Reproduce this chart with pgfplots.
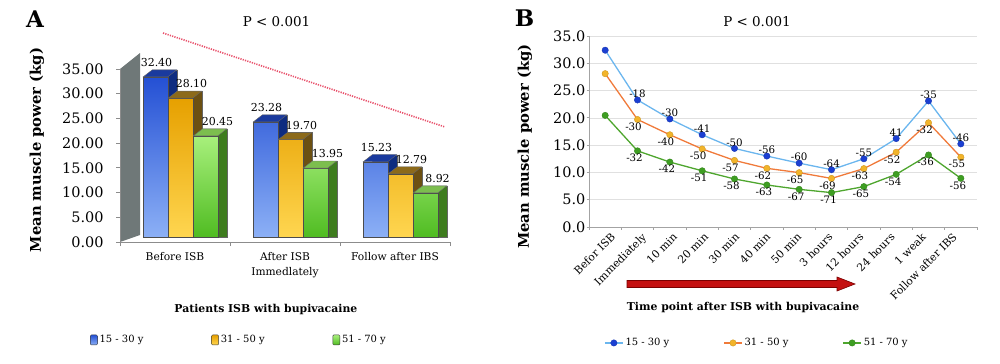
\documentclass[border=0pt]{standalone}
\usepackage{fontspec}
\setmainfont{DejaVu Serif}
\usepackage{pgfplots}
\usepackage{pgfplotstable}
\pgfplotsset{compat=1.18}
\pgfkeys{/pgf/number format/assume math mode=true}

\definecolor{bluetop}{HTML}{2450D4}
\definecolor{bluebot}{HTML}{8CB0F6}
\definecolor{blueside}{HTML}{0E2C80}
\definecolor{blueface}{HTML}{1A3A9E}
\definecolor{orgtop}{HTML}{E6A000}
\definecolor{orgbot}{HTML}{FFD650}
\definecolor{orgside}{HTML}{6C5012}
\definecolor{orgface}{HTML}{8C6A1A}
\definecolor{grntop}{HTML}{A8F07C}
\definecolor{grnbot}{HTML}{50BC22}
\definecolor{grnside}{HTML}{3E7C1E}
\definecolor{grnface}{HTML}{7CBE4E}
\definecolor{wallc}{HTML}{6F7878}
\definecolor{axgray}{HTML}{8C8C8C}
\definecolor{trend}{HTML}{E8506A}
\definecolor{lblue}{HTML}{6BB6EE}
\definecolor{mblue}{HTML}{1B3FD2}
\definecolor{lorange}{HTML}{F07A3A}
\definecolor{morange}{HTML}{F2B42A}
\definecolor{lgreen}{HTML}{4EA62E}
\definecolor{mgreen}{HTML}{3E9E22}
\definecolor{arrowred}{HTML}{C41010}
\definecolor{arrowdark}{HTML}{7A0000}

\newcommand\fYT{\fontsize{14.5}{17}\selectfont}
\newcommand\fXA{\fontsize{10.7}{14.5}\selectfont}
\newcommand\fXB{\fontsize{10.8}{13}\selectfont}
\newcommand\fYL{\bfseries\fontsize{14.8}{16}\selectfont}
\newcommand\fXL{\bfseries\fontsize{10.9}{12}\selectfont}
\newcommand\fLeg{\fontsize{10}{12}\selectfont}
\newcommand\fLA{\fontsize{11}{12}\selectfont}
\newcommand\fLB{\fontsize{10.3}{12}\selectfont}

\pgfdeclareplotmark{topthreed}{%
  \pgfpathmoveto{\pgfqpoint{-12.25bp}{0bp}}%
  \pgfpathlineto{\pgfqpoint{12.25bp}{0bp}}%
  \pgfpathlineto{\pgfqpoint{21.25bp}{7bp}}%
  \pgfpathlineto{\pgfqpoint{-3.25bp}{7bp}}%
  \pgfpathclose
  \pgfusepathqfillstroke}

\pgfplotstableread{
x b o g
0 32.40 28.10 20.45
1 23.28 19.70 13.95
2 15.23 12.79 8.92
}\dataA

\pgfplotstableread{
x b o g lb lo lg
0 32.40 28.10 20.45 {} {} {}
1 23.28 19.70 13.95 -18 -30 -32
2 19.80 16.90 11.90 -30 -40 -42
3 16.90 14.30 10.30 -41 -50 -51
4 14.40 12.20 8.80 -50 -57 -58
5 13.00 10.75 7.70 -56 -62 -63
6 11.70 9.96 6.90 -60 -65 -67
7 10.50 8.90 6.30 -64 -69 -71
8 12.50 10.70 7.40 -55 -63 -65
9 16.20 13.70 9.65 41 -52 -54
10 23.10 19.10 13.20 -35 -32 -36
11 15.23 12.79 8.92 -46 -55 -56
}\dataB

\pgfplotsset{
  sqlegend/.style={legend image code/.code={\draw[##1, draw=black!75, line width=0.4bp, rounded corners=1bp] (0bp,-5bp) rectangle (7bp,5bp);}},
  toplab/.style={nodes near coords={\pgfmathprintnumber[fixed,fixed zerofill,precision=2]{\pgfplotspointmeta}},
    every node near coord/.append style={font=\fLA, black, anchor=south, xshift=#1, yshift=6.5bp}},
}

\begin{document}
\begin{tikzpicture}[x=1bp,y=1bp]
\useasboundingbox (0,0) rectangle (1000,363);

% ---------------- Panel A ----------------
\fill[wallc] (120,121) -- (120,294) -- (140,310) -- (140,128) -- cycle;
\draw[trend, line width=1.6bp, dash pattern=on 1.2bp off 1.2bp] (163,330) -- (445,236);
\node[font=\bfseries\fontsize{23}{25}\selectfont] at (35,343.5) {A};
\node[font=\fontsize{13.5}{15}\selectfont] at (276.5,341) {P < 0.001};

\begin{axis}[
  at={(120bp,121bp)}, anchor=south west, scale only axis,
  width=330bp, height=173bp,
  xmin=-0.5, xmax=2.5, ymin=0, ymax=35,
  axis x line*=bottom, axis y line*=left,
  axis line style={axgray, line width=0.8bp},
  tick style={axgray, line width=0.8bp},
  tick align=outside, major tick length=4bp,
  ytick={0,5,...,35},
  yticklabel style={font=\fYT, xshift=-9bp},
  yticklabel={\pgfmathprintnumber[fixed,fixed zerofill,precision=2]{\tick}},
  xtick={-0.5,0.5,1.5,2.5}, xticklabels={},
  extra x ticks={0,1,2},
  extra x tick labels={Before ISB, {After ISB\\Immedlately}, Follow after IBS},
  extra x tick style={major tick length=0pt, xticklabel style={font=\fXA, align=center, yshift=-7bp}},
  xlabel={Patients ISB with bupivacaine},
  xlabel style={font=\fXL, at={(axis description cs:0.442,-0.393)}, anchor=center},
  ylabel={Mean muscle power (kg)},
  ylabel style={font=\fYL, at={(axis description cs:-0.2515,0.532)}, anchor=center},
]
\end{axis}

\begin{axis}[
  at={(120bp,126bp)}, anchor=south west, scale only axis,
  width=330bp, height=173bp,
  xmin=-0.5, xmax=2.5, ymin=0, ymax=35,
  hide axis, clip=false,
  legend columns=3,
  legend cell align=left,
  legend style={at={(axis description cs:-0.091,-0.595)}, anchor=west, draw=none, fill=none,
    font=\fLeg, inner sep=0pt, /tikz/every even column/.append style={column sep=66bp}},
]
% side faces
\addplot[ybar, bar width=24.5bp, bar shift=-10.5bp, fill=blueside, draw=black!60, line width=0.4bp, forget plot]
  table[x=x, y expr=\thisrow{b}+1.417] {\dataA};
\addplot[ybar, bar width=24.5bp, bar shift=14.5bp, fill=orgside, draw=black!60, line width=0.4bp, forget plot]
  table[x=x, y expr=\thisrow{o}+1.417] {\dataA};
\addplot[ybar, bar width=24.5bp, bar shift=39.5bp, fill=grnside, draw=black!60, line width=0.4bp, forget plot]
  table[x=x, y expr=\thisrow{g}+1.417] {\dataA};
% front faces
\addplot[ybar, bar width=24.5bp, bar shift=-19.5bp, draw=black!70, line width=0.4bp,
  top color=bluetop, bottom color=bluebot, sqlegend]
  table[x=x, y=b] {\dataA};
\addlegendentry{15 - 30 y}
\addplot[ybar, bar width=24.5bp, bar shift=5.5bp, draw=black!70, line width=0.4bp,
  top color=orgtop, bottom color=orgbot, sqlegend]
  table[x=x, y=o] {\dataA};
\addlegendentry{31 - 50 y}
\addplot[ybar, bar width=24.5bp, bar shift=30.5bp, draw=black!70, line width=0.4bp,
  top color=grntop, bottom color=grnbot, sqlegend]
  table[x=x, y=g] {\dataA};
\addlegendentry{51 - 70 y}
% top faces
\addplot[only marks, mark=topthreed, forget plot,
  mark options={xshift=-19.5bp, fill=blueface, draw=black!60, line width=0.4bp}]
  table[x=x, y=b] {\dataA};
\addplot[only marks, mark=topthreed, forget plot,
  mark options={xshift=5.5bp, fill=orgface, draw=black!60, line width=0.4bp}]
  table[x=x, y=o] {\dataA};
\addplot[only marks, mark=topthreed, forget plot,
  mark options={xshift=30.5bp, fill=grnface, draw=black!60, line width=0.4bp}]
  table[x=x, y=g] {\dataA};
% value labels (drawn last, on top)
\addplot[draw=none, mark=none, forget plot, toplab=-18.5bp] table[x=x, y=b] {\dataA};
\addplot[draw=none, mark=none, forget plot, toplab=16.5bp] table[x=x, y=o] {\dataA};
\addplot[draw=none, mark=none, forget plot, toplab=42.5bp] table[x=x, y=g] {\dataA};
\end{axis}

% ---------------- Panel B ----------------
\node[font=\bfseries\fontsize{23}{25}\selectfont] at (524.5,345) {B};
\node[font=\fontsize{13.5}{15}\selectfont] at (757,341) {P < 0.001};
\fill[arrowred, draw=arrowdark, line width=0.6bp]
  (627,75.5) -- (837,75.5) -- (837,72) -- (855,79) -- (837,86) -- (837,82.5) -- (627,82.5) -- cycle;

\begin{axis}[
  at={(589bp,136bp)}, anchor=south west, scale only axis,
  width=388bp, height=191bp,
  xmin=-0.5, xmax=11.5, ymin=0, ymax=35,
  axis x line*=bottom, axis y line*=left,
  axis line style={axgray!80, line width=0.8bp},
  tick style={axgray!80, line width=0.8bp},
  tick align=outside, major tick length=2.5bp,
  ymajorgrids, grid style={black!12, line width=0.7bp},
  ytick={0,5,...,35},
  yticklabel style={font=\fYT, inner xsep=1bp},
  yticklabel={\pgfmathprintnumber[fixed,fixed zerofill,precision=1]{\tick}},
  xtick={-0.5,0.5,...,11.5}, xticklabels={},
  extra x ticks={0,0.961,1.921,2.882,3.842,4.803,5.764,6.724,7.685,8.645,9.606,10.567},
  extra x tick labels={Befor ISB, Immediately, 10 min, 20 min, 30 min, 40 min, 50 min, 3 hours, 12 hours, 24 hours, 1 weak, Follow after IBS},
  extra x tick style={major tick length=0pt, xmajorgrids=false, ymajorgrids=false,
    xticklabel style={font=\fXB, rotate=45, anchor=north east, inner sep=1bp, xshift=1bp, yshift=-6bp}},
  xlabel={Time point after ISB with bupivacaine},
  xlabel style={font=\fXL, at={(axis description cs:0.397,-0.419)}, anchor=center},
  ylabel={Mean muscle power (kg)},
  ylabel style={font=\fYL, at={(axis description cs:-0.165,0.421)}, anchor=center},
  legend columns=3,
  legend cell align=left,
  legend style={at={(axis description cs:0.0387,-0.607)}, anchor=west, draw=none, fill=none,
    font=\fLeg, inner sep=0pt, /tikz/every even column/.append style={column sep=52bp}},
  legend image code/.code={\draw[mark repeat=2, mark phase=2, #1] plot coordinates {(0bp,0bp) (9bp,0bp) (18bp,0bp)};},
  point meta=explicit symbolic,
]
\addplot[lblue, line width=1.3bp, mark=*, mark size=3.2bp,
  mark options={fill=mblue, draw=mblue!85!black, line width=0.4bp},
  nodes near coords, every node near coord/.append style={font=\fLB, black, anchor=south, inner sep=2bp}]
  table[x=x, y=b, meta=lb] {\dataB};
\addlegendentry{15 - 30 y}
\addplot[lorange, line width=1.3bp, mark=*, mark size=3.2bp,
  mark options={fill=morange, draw=morange!85!black, line width=0.4bp},
  nodes near coords, every node near coord/.append style={font=\fLB, black, anchor=north, inner sep=2bp, xshift=-4bp, yshift=-1bp}]
  table[x=x, y=o, meta=lo] {\dataB};
\addlegendentry{31 - 50 y}
\addplot[lgreen, line width=1.3bp, mark=*, mark size=3.2bp,
  mark options={fill=mgreen, draw=mgreen!85!black, line width=0.4bp},
  nodes near coords, every node near coord/.append style={font=\fLB, black, anchor=north, inner sep=2bp, xshift=-3bp, yshift=-1bp}]
  table[x=x, y=g, meta=lg] {\dataB};
\addlegendentry{51 - 70 y}
\end{axis}
\end{tikzpicture}
\end{document}
